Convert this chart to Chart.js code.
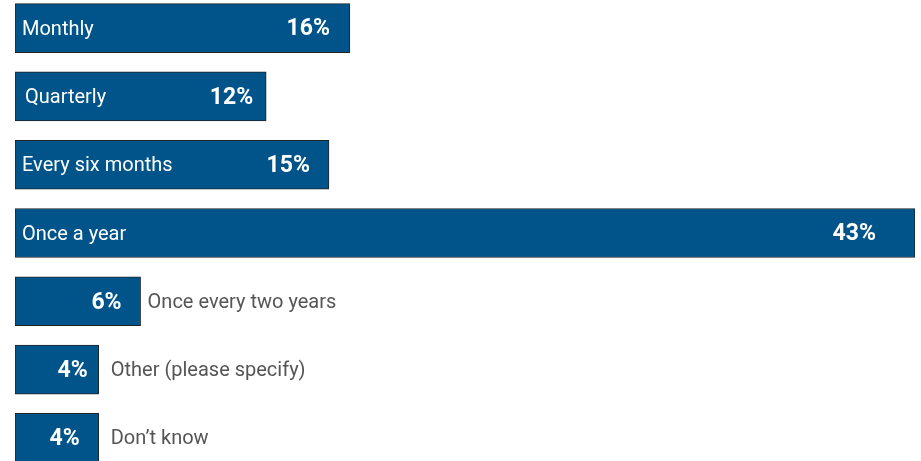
<!DOCTYPE html>
<html>
<head>
<meta charset="utf-8">
<script src="https://cdn.jsdelivr.net/npm/chart.js@4"></script>
<style>
  html, body { margin: 0; padding: 0; background: #fff; overflow: hidden; }
  #wrap { position: relative; width: 921px; height: 478px; top: -6px; }
</style>
</head>
<body>
<div id="wrap"><canvas id="freqChart"></canvas></div>
<script>
const categories = ['Monthly', 'Quarterly', 'Every six months', 'Once a year', 'Once every two years', 'Other (please specify)', "Don\u2019t know"];
const shares = [16, 12, 15, 43, 6, 4, 4];
const valueLabels = ['16%', '12%', '15%', '43%', '6%', '4%', '4%'];

// label placement tweaks (gap from bar end to value text, gap to outside label)
const valuePad = [20, 13, 19, 39, 19, 11, 19];
const namePad = [7, 10, 7, 7, 7, 12, 12];

const barLabels = {
  id: 'barLabels',
  afterDatasetsDraw(chart) {
    const ctx = chart.ctx;
    const meta = chart.getDatasetMeta(0);
    ctx.save();
    ctx.textBaseline = 'middle';
    meta.data.forEach((bar, i) => {
      const left = bar.base;
      const right = bar.x;
      const y = bar.y + 1.5;
      const inside = shares[i] >= 10;
      ctx.font = 'bold 23px Roboto, sans-serif';
      ctx.fillStyle = '#fff';
      ctx.textAlign = 'right';
      ctx.fillText(valueLabels[i], right - valuePad[i], y);
      ctx.font = '20px Roboto, sans-serif';
      ctx.textAlign = 'left';
      if (inside) {
        ctx.fillStyle = '#fff';
        ctx.fillText(categories[i], left + namePad[i], y);
      } else {
        ctx.fillStyle = '#555';
        ctx.fillText(categories[i], right + namePad[i], y);
      }
    });
    ctx.restore();
  }
};

new Chart(document.getElementById('freqChart'), {
  type: 'bar',
  data: {
    labels: categories,
    datasets: [{
      data: shares,
      backgroundColor: '#00548a',
      borderColor: '#1e2326',
      borderWidth: 1,
      borderSkipped: false,
      barThickness: 49
    }]
  },
  options: {
    indexAxis: 'y',
    responsive: true,
    maintainAspectRatio: false,
    animation: false,
    layout: { padding: { left: 15, right: 6, top: 0, bottom: 0 } },
    plugins: {
      legend: { display: false },
      tooltip: { enabled: false }
    },
    scales: {
      x: { display: false, min: 0, max: 43 },
      y: { display: false }
    }
  },
  plugins: [barLabels]
});
</script>
</body>
</html>
